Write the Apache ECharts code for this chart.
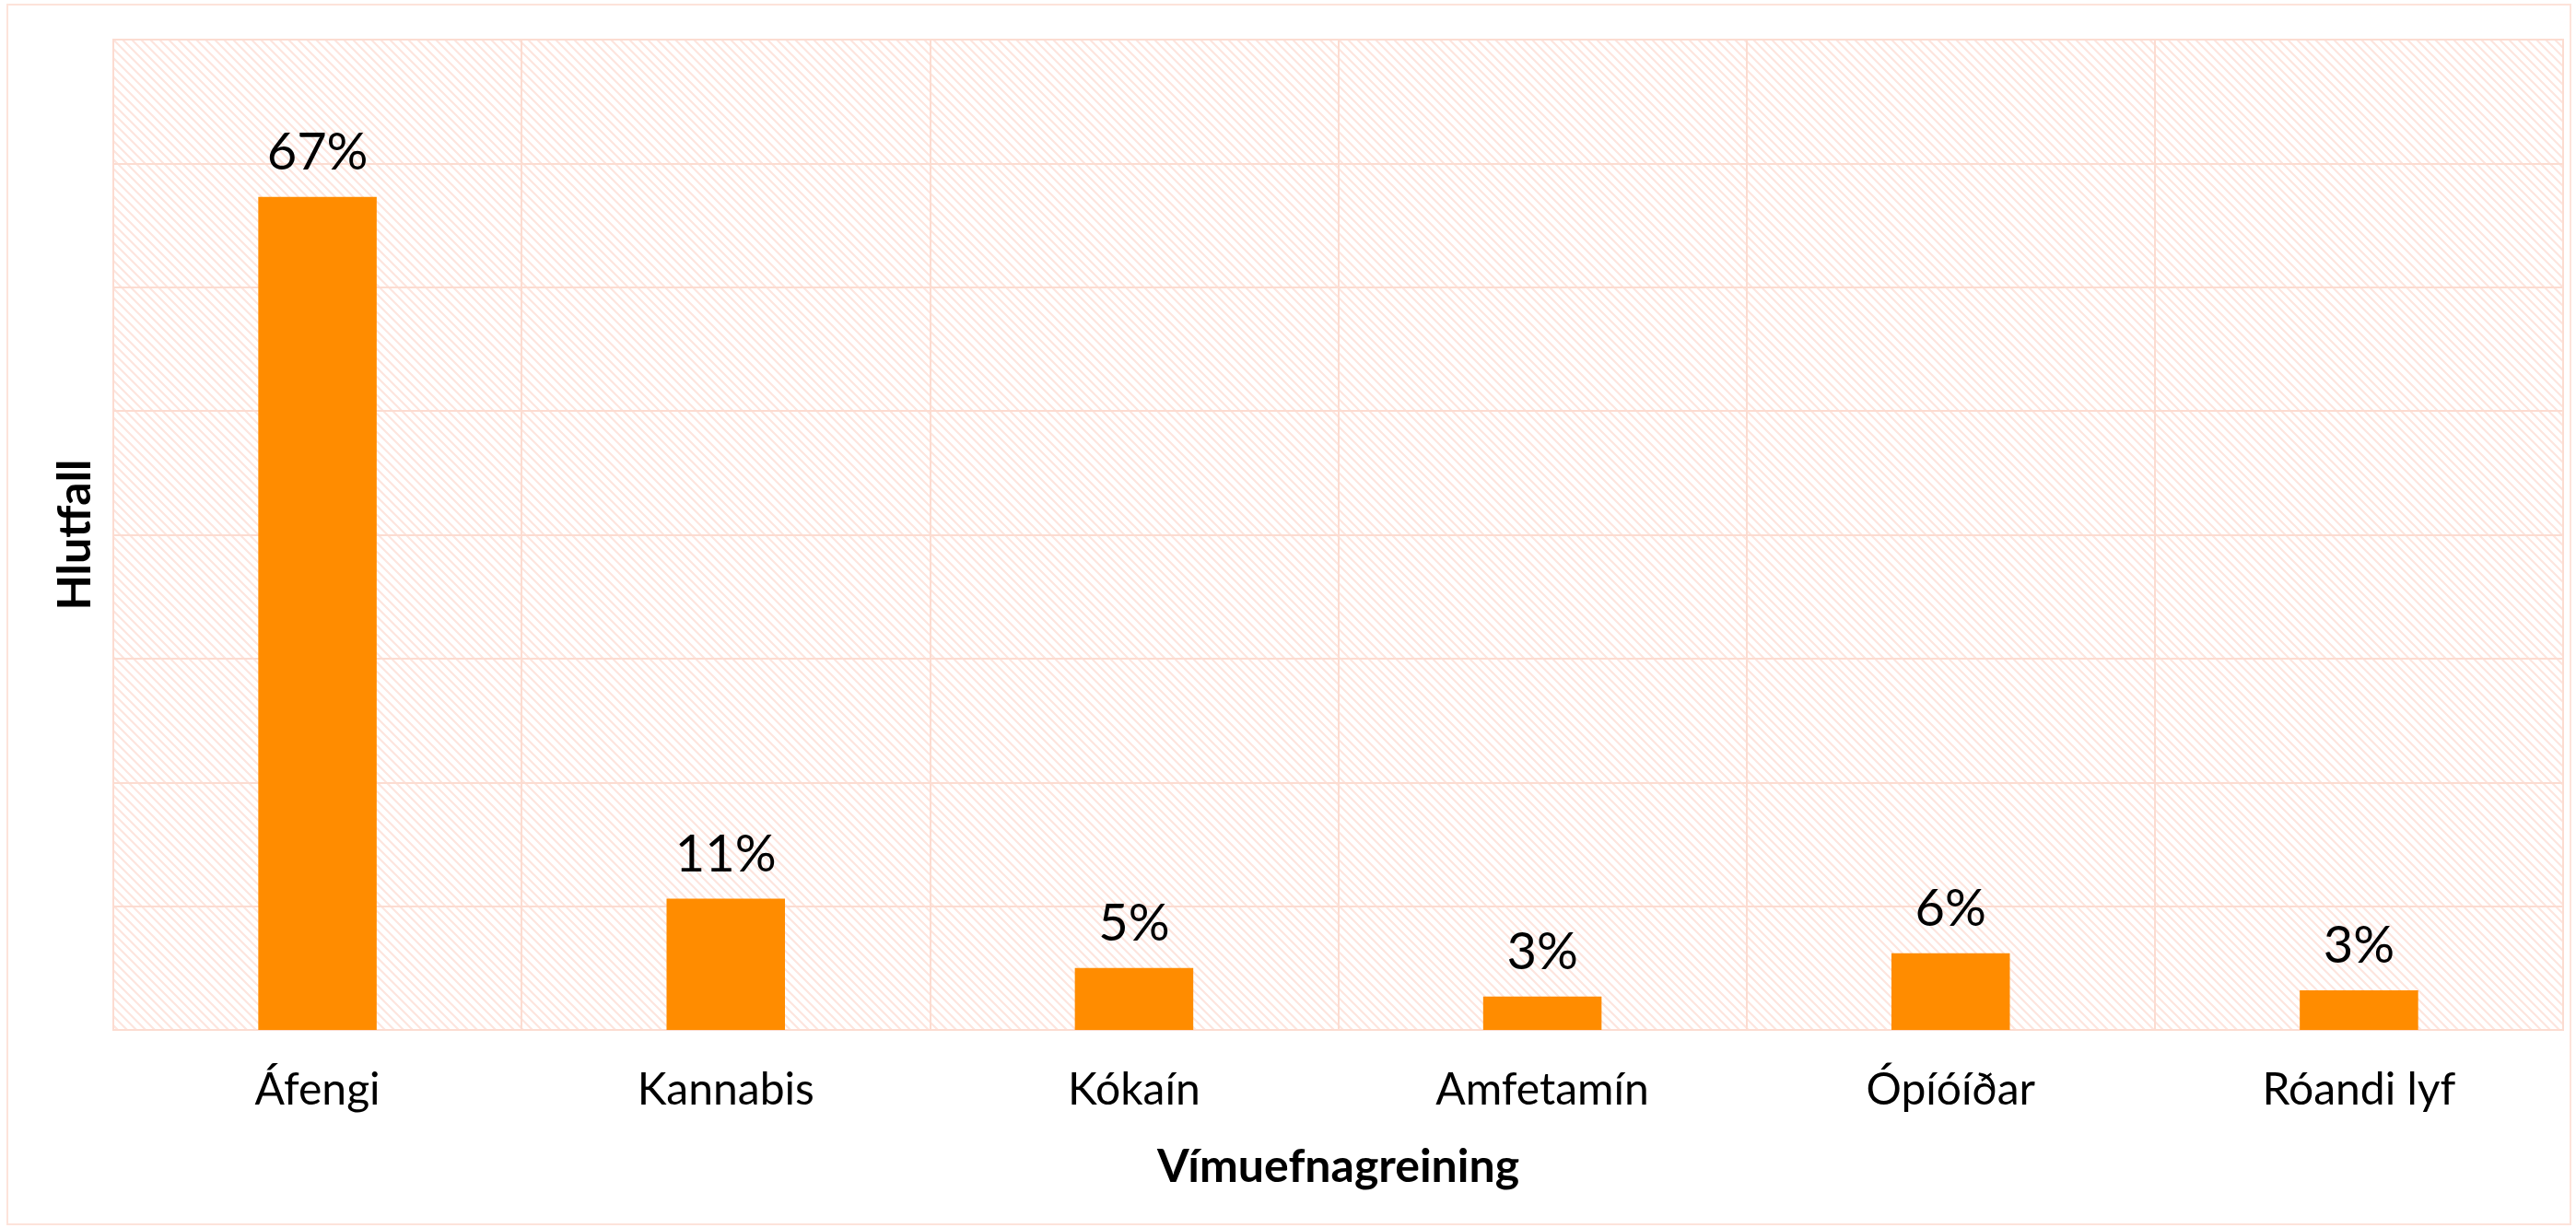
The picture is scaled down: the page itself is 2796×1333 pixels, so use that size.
<!DOCTYPE html>
<html>
<head>
<meta charset="utf-8">
<script src="https://cdn.jsdelivr.net/npm/echarts@6/dist/echarts.min.js"></script>
<style>
  html, body { margin: 0; padding: 0; background: #fff; }
  #chart { width: 2796px; height: 1333px; }
  #frame {
    position: absolute; left: 7px; top: 4px; width: 2780px; height: 1322px;
    border: 2px solid #fde3da; pointer-events: none;
  }
</style>
</head>
<body>
<div id="chart"></div>
<div id="frame"></div>
<script>
  const categories = ['Áfengi', 'Kannabis', 'Kókaín', 'Amfetamín', 'Ópíóíðar', 'Róandi lyf']
  const shares = [67.3, 10.6, 5.0, 2.7, 6.2, 3.2]
  const yMin = 0
  const yMax = 80
  const yStep = 10

  // hatch fyrir bakgrunn teiknisvæðis
  function makeHatch() {
    const size = 10
    const c = document.createElement('canvas')
    c.width = size
    c.height = size
    const ctx = c.getContext('2d')
    ctx.fillStyle = '#ffffff'
    ctx.fillRect(0, 0, size, size)
    ctx.strokeStyle = '#fde5de'
    ctx.lineWidth = 2.2
    ctx.beginPath()
    ctx.moveTo(-2, -2)
    ctx.lineTo(size + 2, size + 2)
    ctx.moveTo(-2, size - 2)
    ctx.lineTo(2, size + 2)
    ctx.moveTo(size - 2, -2)
    ctx.lineTo(size + 2, 2)
    ctx.stroke()
    return c
  }

  const chart = echarts.init(document.getElementById('chart'))
  const gridColor = '#fcdcd1'
  const font = 'Lato, "Open Sans", sans-serif'

  const option = {
    animation: false,
    textStyle: { fontFamily: font },
    grid: {
      left: 123,
      right: 14,
      top: 43,
      bottom: 215,
      show: true,
      borderColor: gridColor,
      borderWidth: 2,
      backgroundColor: { image: makeHatch(), repeat: 'repeat' },
    },
    xAxis: {
      type: 'category',
      data: categories,
      name: 'Vímuefnagreining',
      nameLocation: 'middle',
      nameGap: 124,
      nameTextStyle: { fontSize: 50, fontWeight: 'bold', color: '#000', fontFamily: font },
      axisLine: { lineStyle: { color: gridColor, width: 2 } },
      axisTick: { show: false },
      axisLabel: { fontSize: 48, color: '#000', margin: 42, fontFamily: font },
      splitLine: { show: true, lineStyle: { color: gridColor, width: 2 } },
    },
    yAxis: {
      type: 'value',
      min: yMin,
      max: yMax,
      interval: yStep,
      name: 'Hlutfall',
      nameLocation: 'middle',
      nameGap: 16,
      nameTextStyle: { fontSize: 50, fontWeight: 'bold', color: '#000', fontFamily: font },
      axisLine: { show: false },
      axisTick: { show: false },
      axisLabel: { show: false },
      splitLine: { show: true, lineStyle: { color: gridColor, width: 2 } },
    },
    series: [
      {
        type: 'bar',
        data: shares,
        barWidth: '29%',
        itemStyle: { color: '#ff8c00' },
        label: {
          show: true,
          position: 'top',
          distance: 20,
          fontSize: 56,
          color: '#000',
          fontFamily: font,
          formatter: (p) => Math.round(p.value) + '%',
        },
      },
    ],
  }

  chart.setOption(option)
</script>
</body>
</html>
